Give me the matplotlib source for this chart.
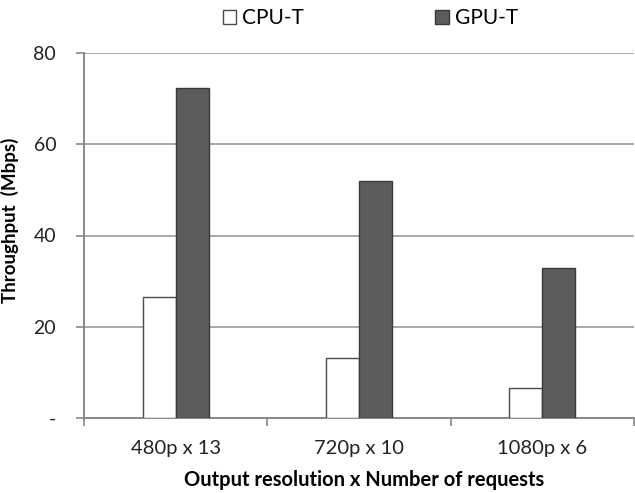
import matplotlib
matplotlib.use("Agg")
import matplotlib.pyplot as plt
import numpy as np

categories = ["480p x 13", "720p x 10", "1080p x 6"]
cpu_t = [26.5, 13.2, 6.6]
gpu_t = [72.4, 52.0, 32.9]
y_ticks = [0, 20, 40, 60, 80]
y_tick_labels = ["-", "20", "40", "60", "80"]

plt.rcParams['font.family'] = ['Lato', 'DejaVu Sans']

fig = plt.figure(figsize=(6.35, 4.93), dpi=100)
ax = fig.add_axes([84/635, 1-418/493, 550/635, (418-53)/493])

x = np.arange(len(categories))
w = 0.18
ax.bar(x - w/2, cpu_t, width=w, color="white", edgecolor="#4a4a4a", linewidth=1.0,
       label="CPU-T", zorder=3)
ax.bar(x + w/2, gpu_t, width=w, color="#5c5c5c", edgecolor="#3a3a3a", linewidth=1.0,
       label="GPU-T", zorder=3)

ax.set_xlim(-0.5, len(categories) - 0.5)
ax.set_ylim(0, 80)
ax.set_yticks(y_ticks)
ax.set_yticklabels(y_tick_labels, fontsize=14, color="#222222")
ax.set_xticks(x)
ax.set_xticklabels(categories, fontsize=14.5, color="#222222")
ax.tick_params(axis='x', length=0, pad=16)
ax.set_xticks(np.arange(-0.5, len(categories) + 0.5, 1.0), minor=True)
ax.tick_params(axis='x', which='minor', length=6, color="#888888", width=1.2)
ax.tick_params(axis='y', length=6, color="#888888", width=1.2, pad=14)

ax.yaxis.grid(True, color="#999999", linewidth=1.2, zorder=0)
ax.set_axisbelow(True)
for s in ["top", "right"]:
    ax.spines[s].set_visible(False)
for s in ["left", "bottom"]:
    ax.spines[s].set_color("#888888")
    ax.spines[s].set_linewidth(1.4)

ax.set_ylabel("Throughput  (Mbps)", fontsize=13.5, fontweight="bold", va="center")
ax.yaxis.set_label_coords(-0.135, 0.542)
ax.set_xlabel("Output resolution x Number of requests", fontsize=14.5,
              fontweight="bold", va="top")
ax.xaxis.set_label_coords(0.51, -0.143)

leg = fig.legend(loc="center", bbox_to_anchor=(0.5835, 0.963), ncol=2, frameon=False,
                 fontsize=15, handlelength=0.65, handleheight=0.65, columnspacing=6.3,
                 handletextpad=0.3)

fig.savefig("out.png", dpi=100)
